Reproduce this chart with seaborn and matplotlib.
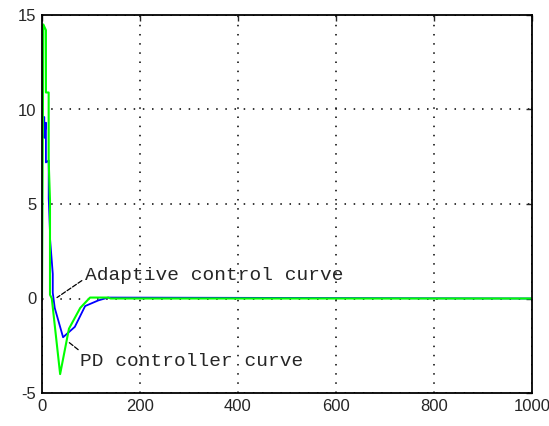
import matplotlib
matplotlib.use('Agg')
import matplotlib.pyplot as plt
import seaborn as sns
import pandas as pd

sns.set_style('white')
plt.rcParams['axes.unicode_minus'] = False

# adaptive control curve (blue)
t_adaptive = [0, 4.7, 4.7, 8, 8, 13.7, 13.7, 16.3, 16.3, 22, 22, 26, 43, 67, 88, 115, 135, 1000]
y_adaptive = [9.6, 9.6, 8.5, 9.3, 7.2, 7.3, 5.3, 3.5, 3.2, 1.3, 0.3, -0.5, -2.05, -1.5, -0.4, -0.1, 0.05, 0]

# PD controller curve (green)
t_pd = [0, 2.7, 8, 8, 13.6, 13.6, 16.3, 16.3, 20, 37, 55, 78, 98, 135, 140, 1000]
y_pd = [0, 14.5, 14.2, 10.9, 10.9, 7.3, 5.2, 0.2, 0, -4.0, -1.6, -0.5, 0.05, 0.05, 0, 0]

x_ticks = [0, 200, 400, 600, 800, 1000]
y_ticks = [-5, 0, 5, 10, 15]

df_a = pd.DataFrame({'t': t_adaptive, 'y': y_adaptive})
df_p = pd.DataFrame({'t': t_pd, 'y': y_pd})

fig = plt.figure(figsize=(5.49, 4.26), dpi=100)
ax = fig.add_axes([42/549, 33/426, 490/549, 378/426])

sns.lineplot(data=df_a, x='t', y='y', ax=ax, sort=False, estimator=None,
             color='#0000ff', linewidth=1.3)
sns.lineplot(data=df_p, x='t', y='y', ax=ax, sort=False, estimator=None,
             color='#00ff00', linewidth=1.5)

ax.set_xlim(0, 1000)
ax.set_ylim(-5, 15)
ax.set_xticks(x_ticks)
ax.set_yticks(y_ticks)
ax.set_xlabel('')
ax.set_ylabel('')
ax.grid(True, color='black', linestyle=(0, (1, 5)), linewidth=1.1)
ax.tick_params(direction='in', length=4, top=True, right=True, width=1,
               labelsize=12, pad=4)
for lab in ax.get_xticklabels() + ax.get_yticklabels():
    lab.set_fontfamily('Liberation Sans')
for s in ax.spines.values():
    s.set_color('black')
    s.set_linewidth(1.3)

ax.annotate('Adaptive control curve', xy=(30.6, 0.05), xytext=(88, 1.2),
            family='Liberation Mono', fontsize=14, va='center', ha='left',
            arrowprops=dict(arrowstyle='-', linestyle='--', color='black',
                            lw=0.9, shrinkA=0, shrinkB=0, relpos=(0, 0.35)))
ax.annotate('PD controller curve', xy=(53, -2.28), xytext=(77.5, -3.33),
            family='Liberation Mono', fontsize=14, va='center', ha='left',
            arrowprops=dict(arrowstyle='-', linestyle='--', color='black',
                            lw=0.9, shrinkA=0, shrinkB=0, relpos=(0.02, 0.9)))

fig.savefig('out.png', dpi=100)
